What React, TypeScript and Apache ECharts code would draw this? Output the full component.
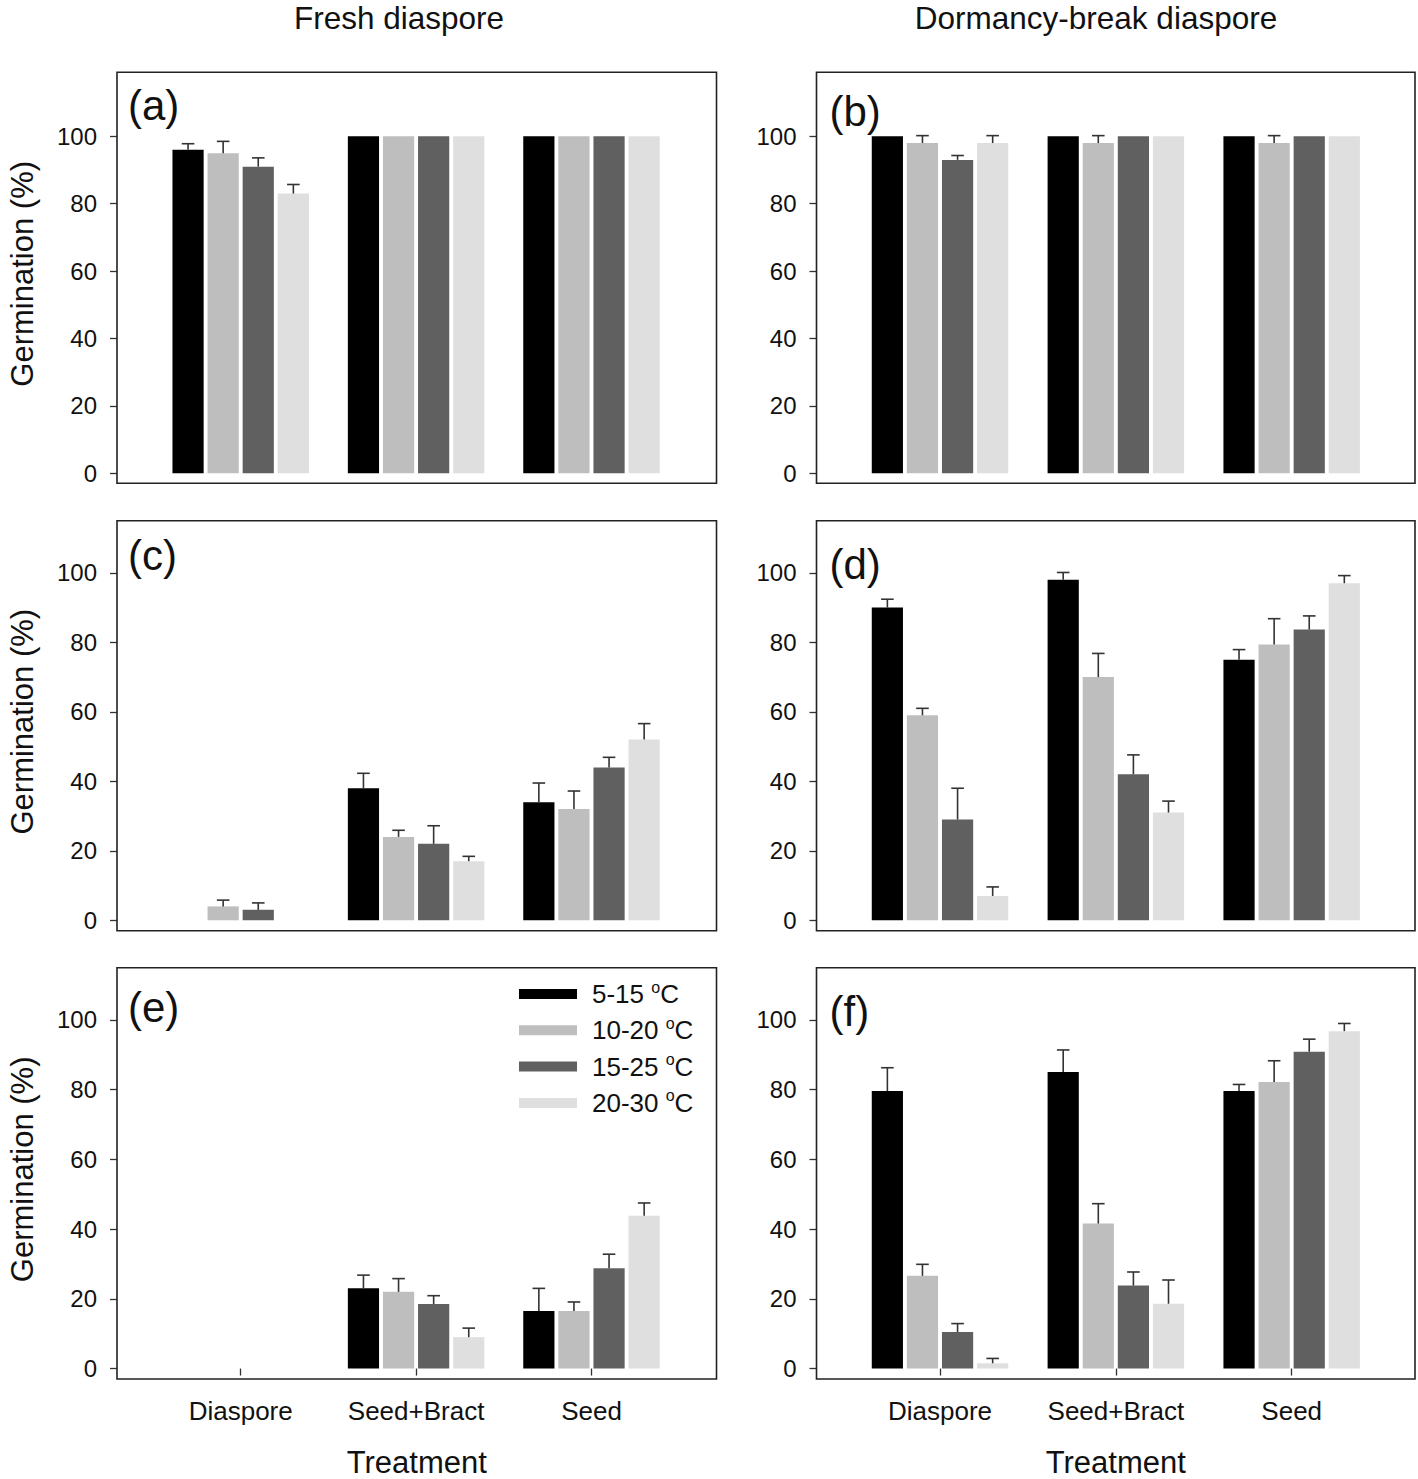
import React, { useEffect, useRef } from 'react';
import * as echarts from 'echarts';

const categories = ['Diaspore', 'Seed+Bract', 'Seed'];
const temps = ['5-15', '10-20', '15-25', '20-30'];
const barColors = ['#000000', '#bebebe', '#606060', '#dfdfdf'];
const yTicks = [0, 20, 40, 60, 80, 100];

// means[temperature][category], errs[temperature][category]
const aMeans = [[96, 100, 100], [95, 100, 100], [91, 100, 100], [83, 100, 100]];
const aErrs = [[1.8, 0, 0], [3.5, 0, 0], [2.6, 0, 0], [2.7, 0, 0]];
const bMeans = [[100, 100, 100], [98, 98, 98], [93, 100, 100], [98, 100, 100]];
const bErrs = [[0, 0, 0], [2.2, 2.2, 2.2], [1.3, 0, 0], [2.2, 0, 0]];
const cMeans = [[0, 38, 34], [4, 24, 32], [3, 22, 44], [0, 17, 52]];
const cErrs = [[0, 4.3, 5.5], [1.8, 1.9, 5.2], [2, 5.2, 2.9], [0, 1.4, 4.6]];
const dMeans = [[90, 98, 75], [59, 70, 79.4], [29, 42, 83.7], [7, 31, 97]];
const dErrs = [[2.4, 2.1, 2.9], [2, 6.8, 7.4], [9, 5.6, 3.9], [2.6, 3.3, 2.2]];
const eMeans = [[0, 23, 16.5], [0, 22, 16.5], [0, 18.5, 28.8], [0, 9, 43.8]];
const eErrs = [[0, 3.8, 6.5], [0, 3.8, 2.6], [0, 2.4, 4], [0, 2.6, 3.7]];
const fMeans = [[79.6, 85.1, 79.6], [26.6, 41.6, 82.2], [10.5, 23.8, 90.9], [1.5, 18.6, 96.8]];
const fErrs = [[6.7, 6.3, 1.9], [3.3, 5.7, 6.1], [2.4, 3.9, 3.6], [1.4, 6.8, 2.2]];

const panelLetters = ['(a)', '(b)', '(c)', '(d)', '(e)', '(f)'];
const columnTitles = ['Fresh diaspore', 'Dormancy-break diaspore'];
const yTitle = 'Germination (%)';
const xTitle = 'Treatment';

const FONT = '"Liberation Sans", Arial, Helvetica, sans-serif';
const BAR_W = 31.2;
const BAR_GAP_PX = 3.9;
const PITCH = BAR_W + BAR_GAP_PX;

export default function App() {
  const ref = useRef<HTMLDivElement>(null);

  useEffect(() => {
    if (!ref.current) return;
    const chart = echarts.init(ref.current, null, { renderer: 'svg' });

    const panelData = [
      { means: aMeans, errs: aErrs },
      { means: bMeans, errs: bErrs },
      { means: cMeans, errs: cErrs },
      { means: dMeans, errs: dErrs },
      { means: eMeans, errs: eErrs },
      { means: fMeans, errs: fErrs },
    ];
    const cols = [
      { frameL: 117, frameR: 716.5, gridL: 153, gridW: 526.2, titleX: 399, letterX: 128 },
      { frameL: 816.5, frameR: 1415, gridL: 852.1, gridW: 527.5, titleX: 1096, letterX: 829.5 },
    ];
    const rows = [
      { top: 72.3, h: 411, max: 119, letterY: [105, 111] },
      { top: 520.7, h: 410, max: 115, letterY: [555, 564] },
      { top: 967.7, h: 411.3, max: 115, letterY: [1007.5, 1011.7] },
    ];

    const grids: any[] = [];
    const xAxes: any[] = [];
    const yAxes: any[] = [];
    const series: any[] = [];
    const graphics: any[] = [];

    panelData.forEach((p, i) => {
      const row = rows[Math.floor(i / 2)];
      const col = cols[i % 2];
      const isBottom = Math.floor(i / 2) === 2;
      grids.push({
        left: col.gridL,
        top: row.top,
        width: col.gridW,
        height: row.h,
        containLabel: false,
        outerBoundsMode: 'none',
      });
      xAxes.push({
        gridIndex: i,
        type: 'category',
        data: categories,
        axisLine: { show: false },
        axisTick: {
          show: isBottom,
          alignWithLabel: true,
          interval: 0,
          length: 7,
          lineStyle: { color: '#333', width: 1.3 },
        },
        axisLabel: {
          show: isBottom,
          interval: 0,
          hideOverlap: false,
          fontSize: 26,
          fontFamily: FONT,
          color: '#111',
          margin: 19,
        },
        splitLine: { show: false },
      });
      yAxes.push({
        gridIndex: i,
        type: 'value',
        min: -3,
        max: row.max,
        position: 'left',
        offset: col.gridL - col.frameL,
        axisLine: { show: false },
        splitLine: { show: false },
        axisTick: {
          show: true,
          length: 7,
          customValues: yTicks,
          lineStyle: { color: '#333', width: 1.3 },
        },
        axisLabel: {
          customValues: yTicks,
          fontSize: 24,
          fontFamily: FONT,
          color: '#111',
          margin: 20,
        },
      });
      temps.forEach((t, k) => {
        series.push({
          type: 'bar',
          name: t,
          xAxisIndex: i,
          yAxisIndex: i,
          data: p.means[k],
          barWidth: BAR_W,
          barGap: (BAR_GAP_PX / BAR_W) * 100 + '%',
          itemStyle: { color: barColors[k] },
          silent: true,
        });
      });
      const errData: number[][] = [];
      temps.forEach((_, k) => {
        categories.forEach((_, c) => {
          errData.push([c, k, p.means[k][c], p.errs[k][c]]);
        });
      });
      series.push({
        type: 'custom',
        xAxisIndex: i,
        yAxisIndex: i,
        data: errData,
        encode: { x: 0, y: 2 },
        silent: true,
        z: 5,
        renderItem: (params: any, api: any) => {
          const c = api.value(0);
          const k = api.value(1);
          const m = api.value(2);
          const e = api.value(3);
          if (!(e > 0)) return null;
          const p0 = api.coord([c, m]);
          const p1 = api.coord([c, m + e]);
          const x = p0[0] + (k - 1.5) * PITCH;
          const st = { stroke: '#333', lineWidth: 1.6 };
          return {
            type: 'group',
            children: [
              { type: 'line', shape: { x1: x, y1: p0[1], x2: x, y2: p1[1] }, style: st },
              { type: 'line', shape: { x1: x - 6.3, y1: p1[1], x2: x + 6.3, y2: p1[1] }, style: st },
            ],
          };
        },
      });

      graphics.push({
        type: 'rect',
        silent: true,
        z: 10,
        shape: { x: col.frameL, y: row.top, width: col.frameR - col.frameL, height: row.h },
        style: { fill: 'none', stroke: '#222', lineWidth: 1.6 },
      });
      graphics.push({
        type: 'text',
        silent: true,
        z: 10,
        x: col.letterX,
        y: row.letterY[i % 2],
        style: {
          text: panelLetters[i],
          font: `42px ${FONT}`,
          fill: '#111',
          textAlign: 'left',
          textVerticalAlign: 'middle',
        },
      });
      if (i % 2 === 0) {
        graphics.push({
          type: 'text',
          silent: true,
          z: 10,
          x: 22,
          y: row.top + row.h / 2 - 4,
          rotation: Math.PI / 2,
          style: {
            text: yTitle,
            font: `31px ${FONT}`,
            fill: '#111',
            textAlign: 'center',
            textVerticalAlign: 'middle',
          },
        });
      }
    });

    cols.forEach((col, ci) => {
      graphics.push({
        type: 'text',
        silent: true,
        x: col.titleX,
        y: 18,
        style: {
          text: columnTitles[ci],
          font: `31.5px ${FONT}`,
          fill: '#111',
          textAlign: 'center',
          textVerticalAlign: 'middle',
        },
      });
      graphics.push({
        type: 'text',
        silent: true,
        x: (col.frameL + col.frameR) / 2,
        y: 1462,
        style: {
          text: xTitle,
          font: `31px ${FONT}`,
          fill: '#111',
          textAlign: 'center',
          textVerticalAlign: 'middle',
        },
      });
    });

    chart.setOption({
      animation: false,
      backgroundColor: '#ffffff',
      grid: grids,
      xAxis: xAxes,
      yAxis: yAxes,
      series,
      graphic: graphics,
      legend: {
        data: temps,
        orient: 'vertical',
        left: 519,
        top: 979,
        padding: 0,
        itemWidth: 58,
        itemHeight: 10,
        itemGap: 8.3,
        icon: 'rect',
        selectedMode: false,
        formatter: (name: string) => `{n|${name} }{s|o}{n|C}`,
        textStyle: {
          padding: [0, 0, 0, 10],
          rich: {
            n: { fontSize: 26, fontFamily: FONT, color: '#111', lineHeight: 30 },
            s: { fontSize: 16, fontFamily: FONT, color: '#111', lineHeight: 14, verticalAlign: 'top' },
          },
        },
      },
    });

    return () => {
      chart.dispose();
    };
  }, []);

  return (
    <div
      ref={ref}
      style={{ position: 'absolute', left: 0, top: 0, width: 1418, height: 1479 }}
    />
  );
}
